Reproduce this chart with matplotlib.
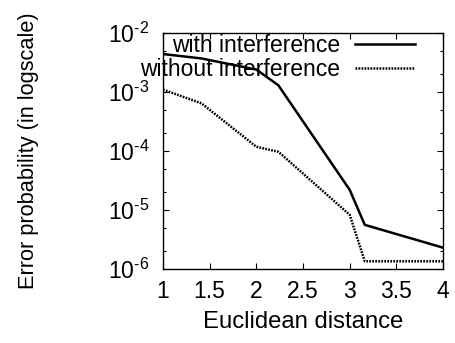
import matplotlib
matplotlib.use("Agg")
import matplotlib.pyplot as plt
from matplotlib.ticker import LogLocator, NullFormatter, FuncFormatter
import math

plt.rcParams['font.family'] = ['Liberation Sans', 'DejaVu Sans']
plt.rcParams['mathtext.fontset'] = 'custom'
plt.rcParams['mathtext.rm'] = 'Liberation Sans'
plt.rcParams['mathtext.it'] = 'Liberation Sans'
plt.rcParams['mathtext.default'] = 'regular'

x_with = [1.0, 1.414, 2.0, 2.236, 3.0, 3.162, 4.0]
y_with = [4.4e-3, 3.7e-3, 2.4e-3, 1.3e-3, 2.2e-5, 5.6e-6, 2.3e-6]
x_without = [1.0, 1.414, 2.0, 2.236, 3.0, 3.162, 4.0]
y_without = [1.1e-3, 6.4e-4, 1.18e-4, 9.7e-5, 8.3e-6, 1.35e-6, 1.35e-6]
xticks = [1, 1.5, 2, 2.5, 3, 3.5, 4]
xticklabels = ['1', '1.5', '2', '2.5', '3', '3.5', '4']
labels = ['with interference', 'without interference']

FS = 16.5
fig = plt.figure(figsize=(4.56, 3.43), dpi=100)
ax = fig.add_axes([163/456, 1-269/343, (443-163)/456, (269-33)/343])
ax.plot(x_with, y_with, color='black', lw=1.8, label=labels[0])
ax.plot(x_without, y_without, color='black', lw=1.8, linestyle=(0, (0.7, 0.5)), label=labels[1])
ax.set_yscale('log')
ax.set_xlim(1, 4)
ax.set_ylim(1e-6, 1e-2)
ax.set_xticks(xticks)
ax.set_xticklabels(xticklabels)
ax.yaxis.set_major_locator(LogLocator(base=10, numticks=10))
ax.yaxis.set_major_formatter(FuncFormatter(lambda v, p: '$10^{\u2010%d}$' % abs(round(math.log10(v)))))
ax.yaxis.set_minor_locator(LogLocator(base=10, subs=(2, 5), numticks=10))
ax.yaxis.set_minor_formatter(NullFormatter())
ax.tick_params(which='both', direction='in', top=True, right=True, labelsize=FS, colors='black')
ax.tick_params(axis='x', pad=8)
ax.tick_params(axis='y', pad=10)
ax.tick_params(which='major', length=4, width=0.8)
ax.tick_params(which='minor', length=2.5, width=0.8)
ax.set_xlabel('Euclidean distance', fontsize=17.2, labelpad=6)
ax.set_ylabel('Error probability (in logscale)', fontsize=15.7)
ax.yaxis.set_label_coords(-(163-39)/280, 0.5)
for s in ax.spines.values():
    s.set_linewidth(1.0)
leg = ax.legend(loc='upper right', bbox_to_anchor=((415-163)/280, 0.995), markerfirst=False, frameon=False,
                fontsize=FS, handlelength=2.6, labelspacing=0.05, borderpad=0, borderaxespad=0,
                handletextpad=0.65)
for t in leg.get_texts():
    t.set_ha('right')
fig.savefig('out.png', dpi=100)
